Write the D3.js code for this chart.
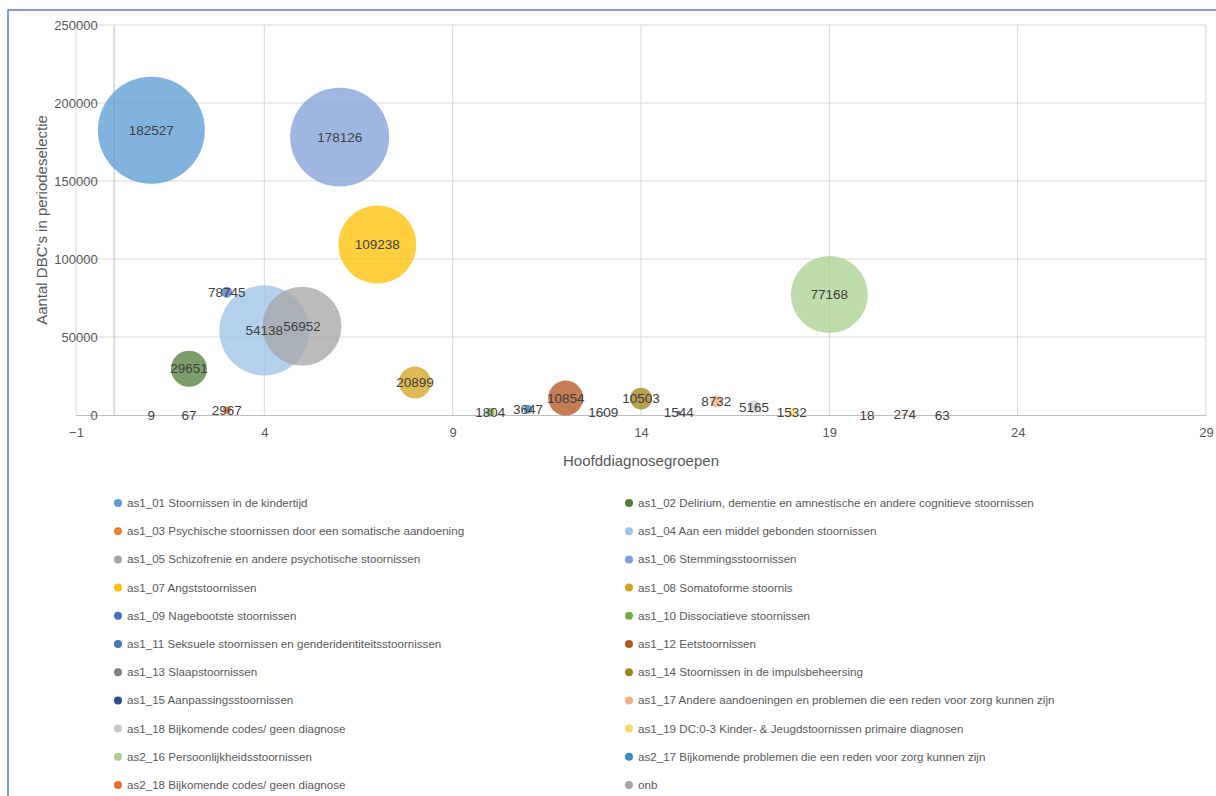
<!DOCTYPE html>
<html>
<head>
<meta charset="utf-8">
<script src="https://cdn.jsdelivr.net/npm/d3@7"></script>
<style>
  body { margin: 0; background: #fff; }
  svg { display: block; font-family: "Liberation Sans", Arial, sans-serif; }
</style>
</head>
<body>
<div id="chart"></div>
<script>
// legend entries, in the order the legend lists them
const seriesNames = [
  "as1_01 Stoornissen in de kindertijd",
  "as1_02 Delirium, dementie en amnestische en andere cognitieve stoornissen",
  "as1_03 Psychische stoornissen door een somatische aandoening",
  "as1_04 Aan een middel gebonden stoornissen",
  "as1_05 Schizofrenie en andere psychotische stoornissen",
  "as1_06 Stemmingsstoornissen",
  "as1_07 Angststoornissen",
  "as1_08 Somatoforme stoornis",
  "as1_09 Nagebootste stoornissen",
  "as1_10 Dissociatieve stoornissen",
  "as1_11 Seksuele stoornissen en genderidentiteitsstoornissen",
  "as1_12 Eetstoornissen",
  "as1_13 Slaapstoornissen",
  "as1_14 Stoornissen in de impulsbeheersing",
  "as1_15 Aanpassingsstoornissen",
  "as1_17 Andere aandoeningen en problemen die een reden voor zorg kunnen zijn",
  "as1_18 Bijkomende codes/ geen diagnose",
  "as1_19 DC:0-3 Kinder- & Jeugdstoornissen primaire diagnosen",
  "as2_16 Persoonlijkheidsstoornissen",
  "as2_17 Bijkomende problemen die een reden voor zorg kunnen zijn",
  "as2_18 Bijkomende codes/ geen diagnose",
  "onb"
];
const seriesColors = [
  "#5b9bd5", "#507e3a", "#ed7d31", "#9dc3e6", "#a5a5a5", "#7f9fd8",
  "#ffc000", "#d4a320", "#4472c4", "#70ad47", "#3f78ad", "#b0561e",
  "#7f7f7f", "#a0841c", "#2f4f86", "#f4b183", "#c9c9c9", "#ffd966",
  "#a9d18e", "#3b88cf", "#e07030", "#a5a5a5"
];

// bubbles: x = group number, y = aantal DBC's, size read from bubble diameter
// (the last two points belong to series below the visible legend)
const pointX      = [1, 2, 3, 4, 5, 6, 7, 8, 3, 10, 11, 12, 13, 14, 15, 16, 17, 18, 19, 20, 21, 22, 1, 2];
const pointY      = [182527, 29651, 2967, 54138, 56952, 178126, 109238, 20899, 78745, 1804, 3647, 10854,
                     1609, 10503, 1544, 8732, 5165, 1532, 77168, 18, 274, 63, 9, 67];
const bubbleSize  = [11450, 1300, 64, 8100, 6240, 9800, 6080, 1020, 120, 80, 80, 1225,
                     4, 480, 16, 145, 170, 80, 5930, 1, 9, 1, 1, 1];
const pointSeries = [0, 1, 2, 3, 4, 5, 6, 7, 8, 9, 10, 11, 12, 13, 14, 15, 16, 17, 18, 19, 20, 21, -1, -1];

const xTicks = [-1, 4, 9, 14, 19, 24, 29];
const yTicks = [0, 50000, 100000, 150000, 200000, 250000];

const W = 1216, H = 796;
const svg = d3.select("#chart").append("svg").attr("width", W).attr("height", H);
svg.append("rect").attr("width", W).attr("height", H).attr("fill", "#fff");

// chart frame
svg.append("rect").attr("x", 8).attr("y", 10).attr("width", 1300).attr("height", 900)
  .attr("fill", "none").attr("stroke", "#4f81c7").attr("stroke-width", 1.5);

const x = d3.scaleLinear().domain([-1, 29]).range([76, 1206]);
const y = d3.scaleLinear().domain([0, 250000]).range([415, 25]);
const r = d3.scaleSqrt().domain([0, d3.max(bubbleSize)]).range([0, 53.5]);

// gridlines
svg.append("g").selectAll("line").data(yTicks.slice(1)).join("line")
  .attr("x1", x(-1)).attr("x2", x(29)).attr("y1", d => y(d)).attr("y2", d => y(d))
  .attr("stroke", "#d9d9d9");
svg.append("g").selectAll("line").data(xTicks).join("line")
  .attr("x1", d => x(d)).attr("x2", d => x(d)).attr("y1", y(0)).attr("y2", y(250000))
  .attr("stroke", "#d9d9d9");

// axes
const xAxis = svg.append("g").attr("transform", `translate(0,${y(0)})`)
  .call(d3.axisBottom(x).tickValues(xTicks).tickSize(0).tickPadding(13));
const yAxis = svg.append("g").attr("transform", `translate(${x(0)},0)`)
  .call(d3.axisLeft(y).tickValues(yTicks).tickSize(0).tickPadding(16).tickFormat(d3.format("d")));
[xAxis, yAxis].forEach(a => {
  a.select(".domain").attr("stroke", "#bfbfbf");
  a.selectAll("text").attr("fill", "#595959").attr("font-size", 13).attr("font-family", null);
});
xAxis.select(".domain").attr("d", `M${x(-1)},0.5H${x(29)}`);

// axis titles
svg.append("text").attr("x", (x(-1) + x(29)) / 2).attr("y", 466)
  .attr("text-anchor", "middle").attr("fill", "#595959").attr("font-size", 15)
  .text("Hoofddiagnosegroepen");
svg.append("text").attr("transform", `translate(47,${(y(0) + y(250000)) / 2}) rotate(-90)`)
  .attr("text-anchor", "middle").attr("fill", "#595959").attr("font-size", 15)
  .text("Aantal DBC's in periodeselectie");

// bubbles
const pts = pointX.map((d, i) => ({
  x: d, y: pointY[i], size: bubbleSize[i],
  color: pointSeries[i] >= 0 ? seriesColors[pointSeries[i]] : "#7f7f7f"
}));
svg.append("g").selectAll("circle").data(pts).join("circle")
  .attr("cx", d => x(d.x)).attr("cy", d => y(d.y)).attr("r", d => r(d.size))
  .attr("fill", d => d.color).attr("fill-opacity", 0.76);

// data labels
svg.append("g").selectAll("text").data(pts).join("text")
  .attr("x", d => x(d.x)).attr("y", d => y(d.y)).attr("dy", "0.35em")
  .attr("text-anchor", "middle").attr("fill", "#404040").attr("font-size", 13.5)
  .text(d => d.y);

// legend, two columns
const legend = svg.append("g").selectAll("g").data(seriesNames).join("g")
  .attr("transform", (d, i) => `translate(${i % 2 ? 629 : 118},${503 + Math.floor(i / 2) * 28.2})`);
legend.append("circle").attr("r", 4).attr("fill", (d, i) => seriesColors[i]);
legend.append("text").attr("x", 9).attr("dy", "0.35em")
  .attr("fill", "#595959").attr("font-size", 11.6).text(d => d);
</script>
</body>
</html>
